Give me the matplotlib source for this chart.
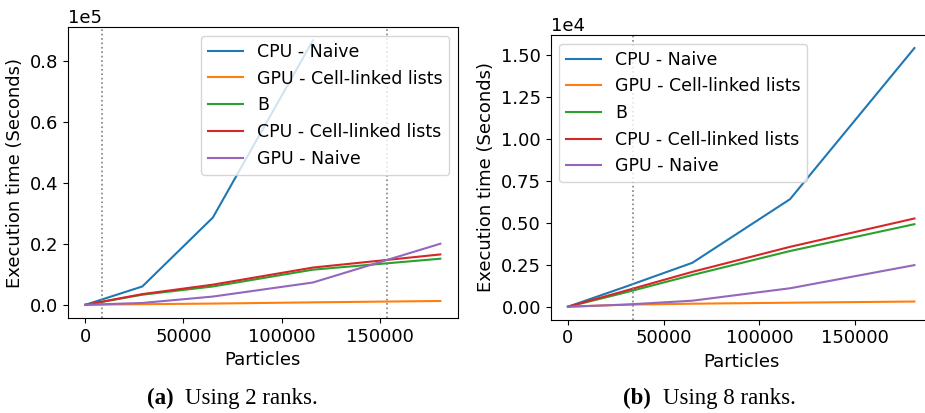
import matplotlib
matplotlib.use("Agg")
import matplotlib.pyplot as plt

# Particle counts of each run
particles = [0, 29000, 65000, 116000, 181000]
labels = ["CPU - Naive", "GPU - Cell-linked lists", "B",
          "CPU - Cell-linked lists", "GPU - Naive"]

# Execution times (seconds), 2 ranks
cpu_naive_2 = [0, 6000, 28600, 86600]
gpu_cll_2 = [0, 200, 400, 800, 1250]
b_2 = [0, 3300, 6000, 11500, 15100]
cpu_cll_2 = [0, 3500, 6600, 12200, 16500]
gpu_naive_2 = [0, 600, 2700, 7300, 20000]
marks_2 = [8500, 153700]

# Execution times (seconds), 8 ranks
cpu_naive_8 = [0, 1150, 2620, 6410, 15420]
gpu_cll_8 = [0, 120, 180, 240, 310]
b_8 = [0, 820, 1890, 3320, 4920]
cpu_cll_8 = [0, 920, 2080, 3570, 5260]
gpu_naive_8 = [0, 120, 360, 1100, 2480]
marks_8 = [34100]

plt.rcParams["font.size"] = 13

fig = plt.figure(figsize=(9.25, 4.13), dpi=100)
ax1 = fig.add_axes([0.0732, 0.230, 0.422, 0.704])
ax2 = fig.add_axes([0.5953, 0.226, 0.412, 0.689])

panels = [
    (ax1, [cpu_naive_2, gpu_cll_2, b_2, cpu_cll_2, gpu_naive_2], marks_2,
     "upper right", 5),
    (ax2, [cpu_naive_8, gpu_cll_8, b_8, cpu_cll_8, gpu_naive_8], marks_8,
     "upper left", 4),
]

for ax, series, marks, loc, order in panels:
    for ys, lab in zip(series, labels):
        ax.plot(particles[:len(ys)], ys, label=lab, linewidth=1.5)
    for m in marks:
        ax.axvline(m, color="gray", linestyle=":", linewidth=1.2)
    # fixed exponent for the offset text (1e5 / 1e4)
    ax.ticklabel_format(axis="y", style="sci", scilimits=(order, order))
    ax.set_xticks([0, 50000, 100000, 150000])
    ax.set_xlabel("Particles")
    ax.set_ylabel("Execution time (Seconds)")
    ax.legend(loc=loc, fontsize=12.5)

# captions under each panel
cap = dict(fontsize=16.5, family="Liberation Serif", va="baseline")
fig.text(0.1586, 0.022, "(a)", ha="left", weight="bold", **cap)
fig.text(0.200, 0.022, "Using 2 ranks.", ha="left", **cap)
fig.text(0.6735, 0.022, "(b)", ha="left", weight="bold", **cap)
fig.text(0.7167, 0.022, "Using 8 ranks.", ha="left", **cap)

fig.savefig("out.png", dpi=100)
